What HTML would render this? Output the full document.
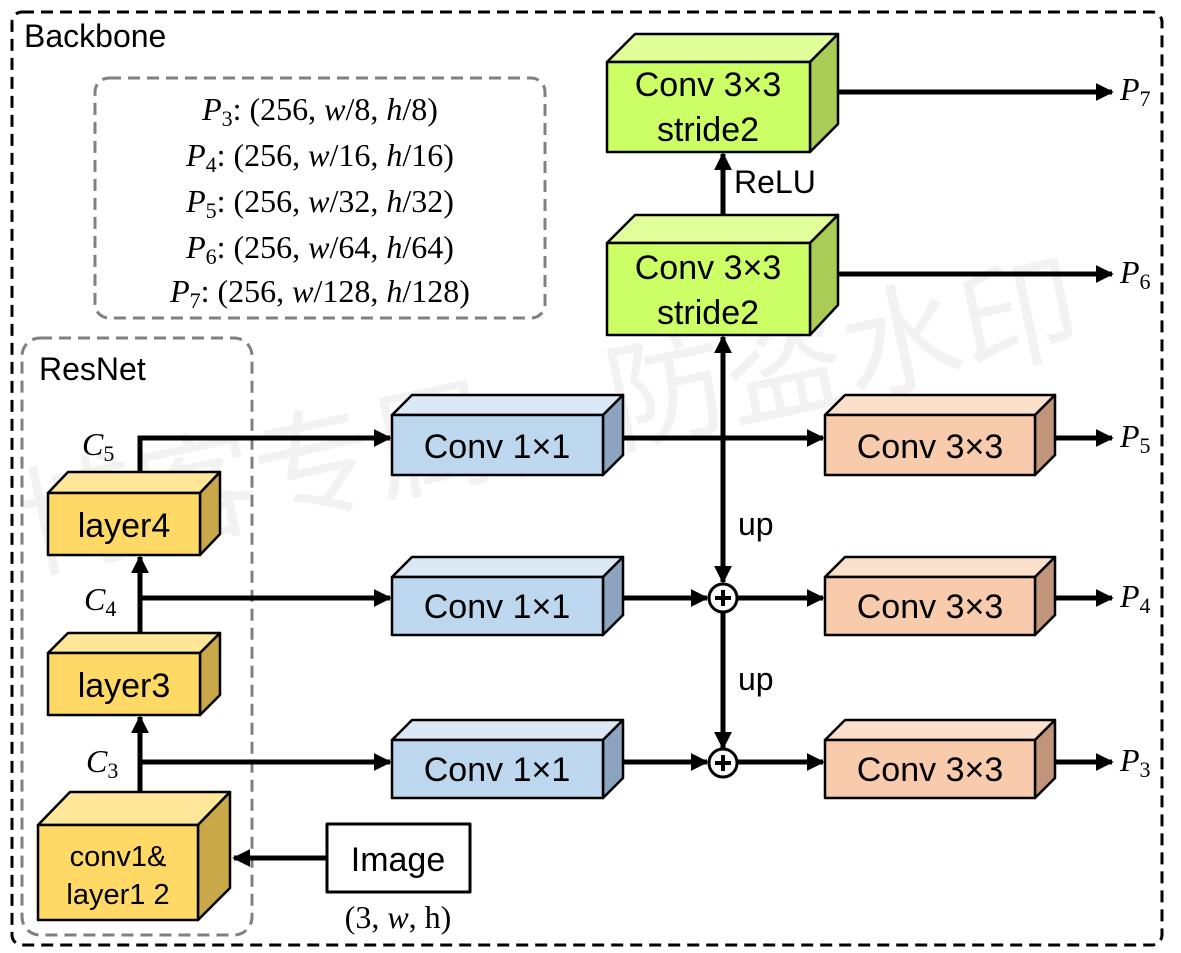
<!DOCTYPE html>
<html><head><meta charset="utf-8"><style>
html,body{margin:0;padding:0;background:#fff}
svg{display:block}
text{font-family:"Liberation Sans",Arial,sans-serif}
.m text,text.m{font-family:"Liberation Serif","DejaVu Serif",serif}
</style></head><body>
<svg width="1181" height="953" viewBox="0 0 1181 953" xmlns="http://www.w3.org/2000/svg">
<defs>
<marker id="ar" viewBox="0 0 10 10" refX="9" refY="5" markerWidth="18" markerHeight="18" markerUnits="userSpaceOnUse" orient="auto"><path d="M0,0 L10,5 L0,10 z" fill="#000"/></marker>
</defs>
<text x="30" y="570" font-size="120" fill="#000" fill-opacity="0.05" transform="rotate(-12 30 570)" style="font-family:'Noto Sans CJK SC',sans-serif">博客专属，防盗水印</text>

<rect x="12" y="12" width="1150" height="933" rx="10" fill="none" stroke="#000" stroke-width="3" stroke-dasharray="12,7"/>
<rect x="95" y="78" width="450" height="240" rx="14" fill="none" stroke="#808080" stroke-width="3" stroke-dasharray="12,7"/>
<rect x="22" y="338" width="230" height="597" rx="18" fill="none" stroke="#808080" stroke-width="3" stroke-dasharray="12,7"/>
<text x="24" y="47" font-size="32">Backbone</text>
<text x="39" y="380" font-size="32">ResNet</text>

<g class="m" font-size="32" text-anchor="middle">
<text x="320" y="120"><tspan font-style="italic">P</tspan><tspan font-size="22" dy="6">3</tspan><tspan dy="-6">: (256, </tspan><tspan font-style="italic">w</tspan>/8, <tspan font-style="italic">h</tspan>/8)</text>
<text x="320" y="166"><tspan font-style="italic">P</tspan><tspan font-size="22" dy="6">4</tspan><tspan dy="-6">: (256, </tspan><tspan font-style="italic">w</tspan>/16, <tspan font-style="italic">h</tspan>/16)</text>
<text x="320" y="212"><tspan font-style="italic">P</tspan><tspan font-size="22" dy="6">5</tspan><tspan dy="-6">: (256, </tspan><tspan font-style="italic">w</tspan>/32, <tspan font-style="italic">h</tspan>/32)</text>
<text x="320" y="258"><tspan font-style="italic">P</tspan><tspan font-size="22" dy="6">6</tspan><tspan dy="-6">: (256, </tspan><tspan font-style="italic">w</tspan>/64, <tspan font-style="italic">h</tspan>/64)</text>
<text x="320" y="302"><tspan font-style="italic">P</tspan><tspan font-size="22" dy="6">7</tspan><tspan dy="-6">: (256, </tspan><tspan font-style="italic">w</tspan>/128, <tspan font-style="italic">h</tspan>/128)</text>
</g>

<g stroke="#000" stroke-width="5" fill="none">
<line x1="810" y1="92" x2="1112" y2="92" marker-end="url(#ar)"/>
<line x1="810" y1="274" x2="1112" y2="274" marker-end="url(#ar)"/>
<line x1="723" y1="215" x2="723" y2="154" marker-end="url(#ar)"/>
<line x1="723" y1="438" x2="723" y2="337" marker-end="url(#ar)"/>
<line x1="723" y1="438" x2="723" y2="582" marker-end="url(#ar)"/>
<line x1="723" y1="612" x2="723" y2="748" marker-end="url(#ar)"/>
<polyline points="140,472 140,438 390,438" marker-end="url(#ar)"/>
<line x1="140" y1="598" x2="390" y2="598" marker-end="url(#ar)"/>
<line x1="140" y1="762" x2="390" y2="762" marker-end="url(#ar)"/>
<line x1="140" y1="633" x2="140" y2="557" marker-end="url(#ar)"/>
<line x1="140" y1="792" x2="140" y2="717" marker-end="url(#ar)"/>
<line x1="603" y1="438" x2="823" y2="438" marker-end="url(#ar)"/>
<line x1="603" y1="598" x2="707" y2="598" marker-end="url(#ar)"/>
<line x1="603" y1="762" x2="707" y2="762" marker-end="url(#ar)"/>
<line x1="738" y1="598" x2="823" y2="598" marker-end="url(#ar)"/>
<line x1="738" y1="762" x2="823" y2="762" marker-end="url(#ar)"/>
<line x1="1035" y1="438" x2="1112" y2="438" marker-end="url(#ar)"/>
<line x1="1035" y1="598" x2="1112" y2="598" marker-end="url(#ar)"/>
<line x1="1035" y1="762" x2="1112" y2="762" marker-end="url(#ar)"/>
<line x1="327" y1="858" x2="234" y2="858" marker-end="url(#ar)"/>
</g>
<g stroke="#000" stroke-width="3" fill="#fff">
<circle cx="723" cy="598" r="14"/><circle cx="723" cy="763" r="14"/>
</g>
<g stroke="#000" stroke-width="4">
<line x1="715" y1="598" x2="731" y2="598"/><line x1="723" y1="590" x2="723" y2="606"/>
<line x1="715" y1="763" x2="731" y2="763"/><line x1="723" y1="755" x2="723" y2="771"/>
</g>

<g stroke="#000" stroke-width="2.5" stroke-linejoin="round">
<polygon points="607,62 635,34 838,34 810,62" fill="#e0ff9a"/>
<polygon points="810,62 838,34 838,124 810,152" fill="#a8cc55"/>
<rect x="607" y="62" width="203" height="90" fill="#ccff66"/>
<polygon points="607,243 635,215 838,215 810,243" fill="#e0ff9a"/>
<polygon points="810,243 838,215 838,305 810,335" fill="#a8cc55"/>
<rect x="607" y="243" width="203" height="92" fill="#ccff66"/>
<polygon points="392,415 412,395 623,395 603,415" fill="#dbe8f6"/>
<polygon points="603,415 623,395 623,455 603,475" fill="#8da4c0"/>
<rect x="392" y="415" width="211" height="60" fill="#bdd7ee"/>
<polygon points="392,577 412,557 623,557 603,577" fill="#dbe8f6"/>
<polygon points="603,577 623,557 623,615 603,635" fill="#8da4c0"/>
<rect x="392" y="577" width="211" height="58" fill="#bdd7ee"/>
<polygon points="392,740 412,720 623,720 603,740" fill="#dbe8f6"/>
<polygon points="603,740 623,720 623,778 603,798" fill="#8da4c0"/>
<rect x="392" y="740" width="211" height="58" fill="#bdd7ee"/>
<polygon points="825,415 845,395 1055,395 1035,415" fill="#fbe0cc"/>
<polygon points="1035,415 1055,395 1055,455 1035,475" fill="#c0957a"/>
<rect x="825" y="415" width="210" height="60" fill="#f8cbad"/>
<polygon points="825,577 845,557 1055,557 1035,577" fill="#fbe0cc"/>
<polygon points="1035,577 1055,557 1055,615 1035,635" fill="#c0957a"/>
<rect x="825" y="577" width="210" height="58" fill="#f8cbad"/>
<polygon points="825,740 845,720 1055,720 1035,740" fill="#fbe0cc"/>
<polygon points="1035,740 1055,720 1055,778 1035,798" fill="#c0957a"/>
<rect x="825" y="740" width="210" height="58" fill="#f8cbad"/>
<polygon points="48,493 68,472 220,472 200,493" fill="#ffe699"/>
<polygon points="200,493 220,472 220,534 200,555" fill="#c9a84a"/>
<rect x="48" y="493" width="152" height="62" fill="#ffd966"/>
<polygon points="48,653 68,633 220,633 200,653" fill="#ffe699"/>
<polygon points="200,653 220,633 220,695 200,715" fill="#c9a84a"/>
<rect x="48" y="653" width="152" height="62" fill="#ffd966"/>
<polygon points="38,825 70,792 230,792 198,825" fill="#ffe699"/>
<polygon points="198,825 230,792 230,888 198,920" fill="#c9a84a"/>
<rect x="38" y="825" width="160" height="95" fill="#ffd966"/>
<rect x="327" y="824" width="143" height="68" fill="#fff" stroke-width="3"/>
</g>

<g font-size="34" text-anchor="middle">
<text x="708" y="96">Conv 3×3</text><text x="708" y="141">stride2</text>
<text x="708" y="279">Conv 3×3</text><text x="708" y="324">stride2</text>
<text x="497" y="458">Conv 1×1</text><text x="497" y="618">Conv 1×1</text><text x="497" y="781">Conv 1×1</text>
<text x="930" y="458">Conv 3×3</text><text x="930" y="618">Conv 3×3</text><text x="930" y="781">Conv 3×3</text>
<text x="124" y="537">layer4</text><text x="124" y="697">layer3</text>
<text x="118" y="866" font-size="29">conv1&amp;</text><text x="118" y="904" font-size="29">layer1 2</text>
<text x="398" y="871">Image</text>
</g>
<text x="734" y="193" font-size="32">ReLU</text>
<text x="738" y="535" font-size="32">up</text>
<text x="738" y="690" font-size="32">up</text>

<g class="m" font-size="32">
<text x="82" y="455" font-style="italic">C<tspan font-size="22" dy="6" font-style="normal">5</tspan></text>
<text x="84" y="610" font-style="italic">C<tspan font-size="22" dy="6" font-style="normal">4</tspan></text>
<text x="86" y="772" font-style="italic">C<tspan font-size="22" dy="6" font-style="normal">3</tspan></text>
<text x="1120" y="100" font-style="italic">P<tspan font-size="22" dy="6" font-style="normal">7</tspan></text>
<text x="1120" y="283" font-style="italic">P<tspan font-size="22" dy="6" font-style="normal">6</tspan></text>
<text x="1120" y="447" font-style="italic">P<tspan font-size="22" dy="6" font-style="normal">5</tspan></text>
<text x="1120" y="607" font-style="italic">P<tspan font-size="22" dy="6" font-style="normal">4</tspan></text>
<text x="1120" y="771" font-style="italic">P<tspan font-size="22" dy="6" font-style="normal">3</tspan></text>
<text x="398" y="928" text-anchor="middle">(3, <tspan font-style="italic">w</tspan>, h)</text>
</g>
</svg>
</body></html>
